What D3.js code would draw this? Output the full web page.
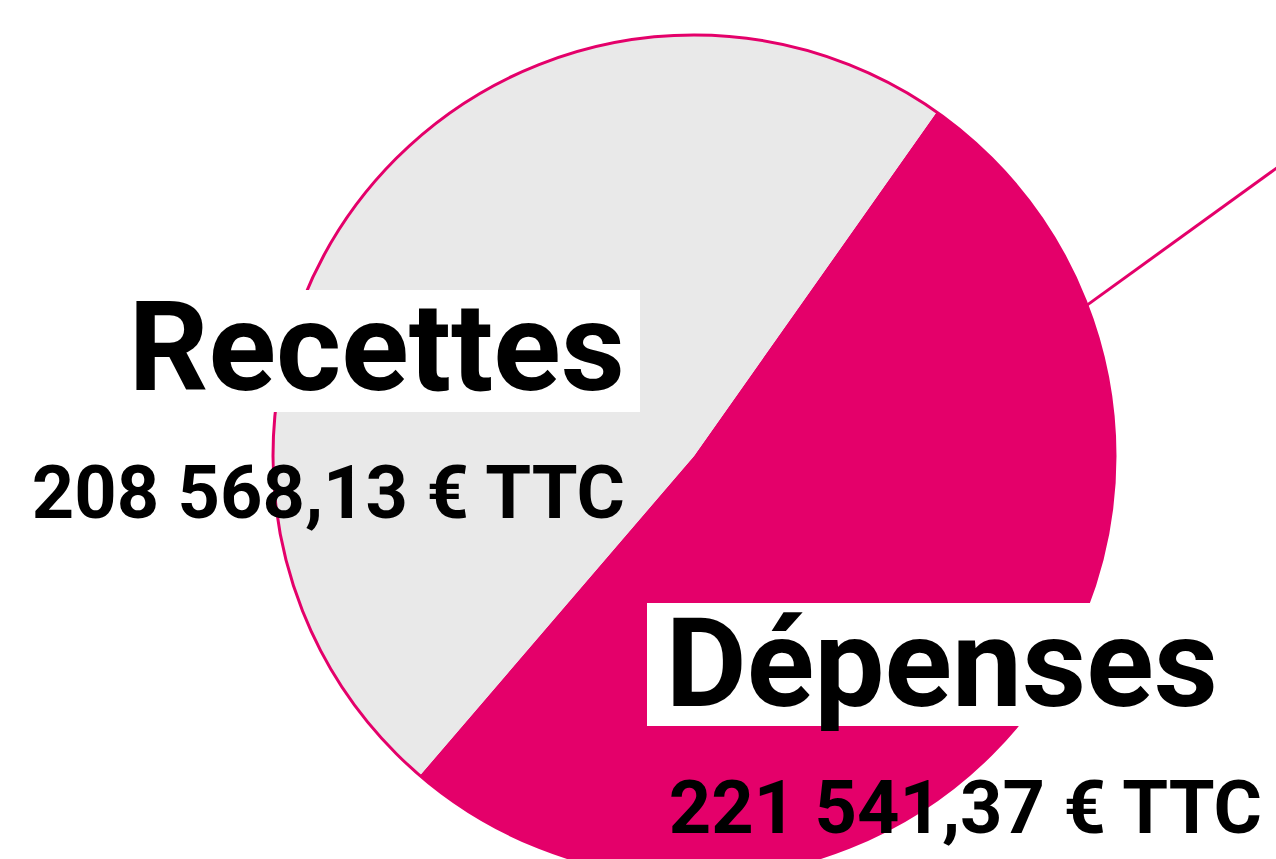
<!DOCTYPE html>
<html><head><meta charset="utf-8">
<script src="https://cdn.jsdelivr.net/npm/d3@7"></script>
<style>html,body{margin:0;padding:0;background:#fff;overflow:hidden}</style>
</head><body>
<svg id="chart" width="1276" height="859"></svg>
<script>
const categories = ["Dépenses", "Recettes"];
const values = [221541.37, 208568.13];
const valueLabels = ["221 541,37 € TTC", "208 568,13 € TTC"];
const colors = ["#e4006a", "#e9e9e9"];

const W = 1276, H = 859;
const cx = 694, cy = 456, R = 421;
const startDeg = 35.2;
const svg = d3.select("#chart");
const g = svg.append("g").attr("transform", `translate(${cx},${cy})`);

const pie = d3.pie().sort(null)
  .startAngle(startDeg * Math.PI / 180)
  .endAngle(startDeg * Math.PI / 180 + 2 * Math.PI);
const arcs = pie(values);
const arc = d3.arc().innerRadius(0).outerRadius(R);
const color = d3.scaleOrdinal().domain(categories).range(colors);

g.selectAll("path.slice").data(arcs).join("path")
  .attr("class", "slice")
  .attr("d", arc)
  .attr("fill", (d, i) => color(categories[i]));

g.append("circle").attr("r", R).attr("fill", "none")
  .attr("stroke", "#e4006a").attr("stroke-width", 3);

// leader line leaving the Dépenses slice
const la = 69 * Math.PI / 180;
const p0 = [R * Math.sin(la), -R * Math.cos(la)];
g.append("line")
  .attr("x1", p0[0]).attr("y1", p0[1])
  .attr("x2", p0[0] + 260).attr("y2", p0[1] - 188)
  .attr("stroke", "#e4006a").attr("stroke-width", 3);

// labels
const labels = [
  {name: categories[1], val: valueLabels[1], rect: [115, 290, 525, 122], nx: 625, ny: 390, vx: 625, vy: 518},
  {name: categories[0], val: valueLabels[0], rect: [647, 603, 590, 123], nx: 1218, ny: 706, vx: 1262, vy: 833}
];
const lg = svg.append("g");
labels.forEach(l => {
  lg.append("rect").attr("x", l.rect[0]).attr("y", l.rect[1])
    .attr("width", l.rect[2]).attr("height", l.rect[3]).attr("fill", "#fff");
});
labels.forEach(l => {
  lg.append("text").attr("x", l.nx).attr("y", l.ny)
    .attr("text-anchor", "end")
    .attr("font-family", "Roboto").attr("font-weight", 700)
    .attr("font-size", 125).attr("fill", "#000").text(l.name);
  lg.append("text").attr("x", l.vx).attr("y", l.vy)
    .attr("text-anchor", "end")
    .attr("font-family", "Roboto").attr("font-weight", 700)
    .attr("font-size", 74).attr("fill", "#000").text(l.val);
});
</script>
</body></html>
